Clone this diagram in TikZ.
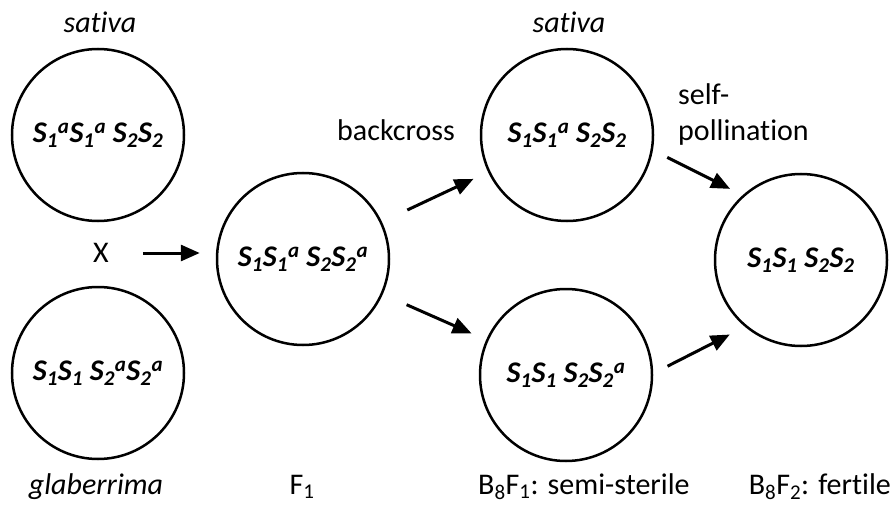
\documentclass[tikz,border=0pt]{standalone}
\usepackage{fontspec}
\setmainfont{Carlito}[Ligatures={NoCommon}]
\usetikzlibrary{arrows.meta}
\newcommand\gsub[1]{\textsubscript{#1}}
\newcommand\gsup[1]{\textsuperscript{#1}}
\begin{document}
\begin{tikzpicture}[x=1pt,y=-1pt,
  every node/.style={font=\fontsize{30}{36}\selectfont, inner sep=0pt},
  cell/.style={circle, draw, line width=2.5pt, minimum size=172pt, inner sep=0pt,
    font=\fontsize{30}{36}\selectfont\bfseries\itshape},
  lab/.style={anchor=base},
  arr/.style={line width=3pt, -{Triangle[length=19pt,width=16pt]}}]
\useasboundingbox (0,0) rectangle (894,505);

% cells
\node[cell] (c1) at (98,135) {S\gsub{1}\gsup{a}S\gsub{1}\gsup{a} S\gsub{2}S\gsub{2}};
\node[cell] (c2) at (98,373) {S\gsub{1}S\gsub{1} S\gsub{2}\gsup{a}S\gsub{2}\gsup{a}};
\node[cell] (c3) at (303,259) {S\gsub{1}S\gsub{1}\gsup{a} S\gsub{2}S\gsub{2}\gsup{a}};
\node[cell] (c4) at (567,135) {S\gsub{1}S\gsub{1}\gsup{a} S\gsub{2}S\gsub{2}};
\node[cell] (c5) at (566,375) {S\gsub{1}S\gsub{1} S\gsub{2}S\gsub{2}\gsup{a}};
\node[cell] (c6) at (801,260) {S\gsub{1}S\gsub{1} S\gsub{2}S\gsub{2}};

% labels
\node[lab] (sat1) at (100,33) {\itshape sativa};
\node[lab] (sat4) at (569,33) {\itshape sativa};
\node[lab] (glab) at (96,494) {\itshape glaberrima};
\node (X) at (101,253) {X};
\node[lab] (f1) at (302,494) {F\gsub{1}};
\node[anchor=base west] (b8f1) at (478,494) {B\gsub{8}F\gsub{1}: semi-sterile};
\node[anchor=base east] (b8f2) at (891,494) {B\gsub{8}F\gsub{2}: fertile};
\node[anchor=base west] (bc) at (337,141) {backcross};
\node[anchor=base west] (sp1) at (678,105) {self-};
\node[anchor=base west] (sp2) at (678,141) {pollination};

% arrows
\draw[arr, shorten <=34pt, shorten >=16pt] (X.east) -- (X.east -| c3.west);
\draw[arr, shorten <=28pt, shorten >=16pt] (c3) -- (c4);
\draw[arr, shorten <=26pt, shorten >=16pt] (c3) -- (c5);
\draw[arr, shorten <=16pt, shorten >=14pt] (c4.-10) -- (c6.132);
\draw[arr, shorten <=16pt, shorten >=17pt] (c5.1) -- (c6.230);
\end{tikzpicture}
\end{document}
